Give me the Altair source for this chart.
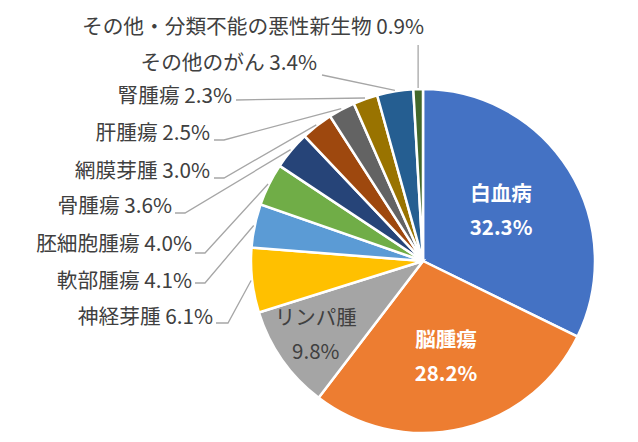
import math
import altair as alt
import pandas as pd

# ---- data ----
names = ["白血病", "脳腫瘍", "リンパ腫", "神経芽腫", "軟部腫瘍", "胚細胞腫瘍",
         "骨腫瘍", "網膜芽腫", "肝腫瘍", "腎腫瘍", "その他のがん", "その他・分類不能の悪性新生物"]
values = [32.3, 28.2, 9.8, 6.1, 4.1, 4.0, 3.6, 3.0, 2.5, 2.3, 3.4, 0.9]
colors = ["#4472C4", "#ED7D31", "#A5A5A5", "#FFC000", "#5B9BD5", "#70AD47",
          "#264478", "#9E480E", "#636363", "#997300", "#255E91", "#43682B"]

# ---- layout (pixels) ----
CX, CY, R = 423, 261, 172
FONT = "Noto Sans CJK JP"
TXT = "#404040"
# inside labels: index -> (label radius, white bold?)
inside = {0: (92, True), 1: (100, True), 2: (131, False)}
# outside labels: index -> (text right x, text centre y, line start x, line start y, elbow length)
outside = {
    3: (213, 318, 216, 323, 12),
    4: (192, 282, 195, 283, 10),
    5: (192, 245, 195, 253, 10),
    6: (172, 207, 175, 213, 10),
    7: (210, 172, 214, 178, 10),
    8: (210, 134, 214, 140, 10),
    9: (232, 97, 236, 100, 0),
    10: (317, 64, 322, 75, 0),
    11: (424, 28, None, 45, 0),
}

total = sum(values)
df = pd.DataFrame({"name": names, "value": values, "idx": list(range(len(names)))})

cum = 0.0
mids = []
for v in values:
    mids.append(2 * math.pi * (cum + v / 2) / total)
    cum += v

def polar(a, rr):
    return CX + rr * math.sin(a), CY - rr * math.cos(a)

# inside text rows
in_rows = []
for i, (rr, white) in inside.items():
    x, y = polar(mids[i], rr)
    in_rows.append({"t": names[i], "x": x, "y": y - 17, "white": white})
    in_rows.append({"t": f"{values[i]}%", "x": x, "y": y + 17, "white": white})
in_df = pd.DataFrame(in_rows)

# outside text rows and leader lines
out_rows, line_rows = [], []
for i, (lx, ly, sx, sy, el) in outside.items():
    out_rows.append({"t": f"{names[i]} {values[i]}%", "x": lx, "y": ly})
    ex, ey = polar(mids[i], R + 1)
    if sx is None:
        sx = ex
    pts = [(sx, sy)]
    if el:
        pts.append((sx + el, sy))
    pts.append((ex, ey))
    for k, (px, py) in enumerate(pts):
        line_rows.append({"g": i, "k": k, "x": px, "y": py})
out_df = pd.DataFrame(out_rows)
line_df = pd.DataFrame(line_rows)

pie = alt.Chart(df).mark_arc(radius=R, stroke="white", strokeWidth=2.5).encode(
    theta=alt.Theta("value:Q", stack=True),
    order=alt.Order("idx:Q"),
    color=alt.Color("name:N", scale=alt.Scale(domain=names, range=colors), legend=None),
    x=alt.value(CX),
    y=alt.value(CY),
)

lines = alt.Chart(line_df).mark_line(color="#A6A6A6", strokeWidth=1.3).encode(
    x=alt.X("x:Q", scale=None),
    y=alt.Y("y:Q", scale=None),
    detail="g:N",
    order="k:Q",
)

out_text = alt.Chart(out_df).mark_text(
    font=FONT, fontSize=20.7, align="right", baseline="middle", color=TXT
).encode(x=alt.X("x:Q", scale=None), y=alt.Y("y:Q", scale=None), text="t:N")

in_white = alt.Chart(in_df[in_df["white"]]).mark_text(
    font=FONT, fontSize=20.5, align="center", baseline="middle", color="white", fontWeight="bold"
).encode(x=alt.X("x:Q", scale=None), y=alt.Y("y:Q", scale=None), text="t:N")

in_dark = alt.Chart(in_df[~in_df["white"]]).mark_text(
    font=FONT, fontSize=20.5, align="center", baseline="middle", color=TXT
).encode(x=alt.X("x:Q", scale=None), y=alt.Y("y:Q", scale=None), text="t:N")

chart = (pie + lines + out_text + in_white + in_dark).properties(
    width=638, height=442, autosize=alt.AutoSizeParams(type="none"), padding=0,
    background="white",
).configure_view(stroke=None)

chart.save("out.html", embed_options={"renderer": "svg", "actions": False})
